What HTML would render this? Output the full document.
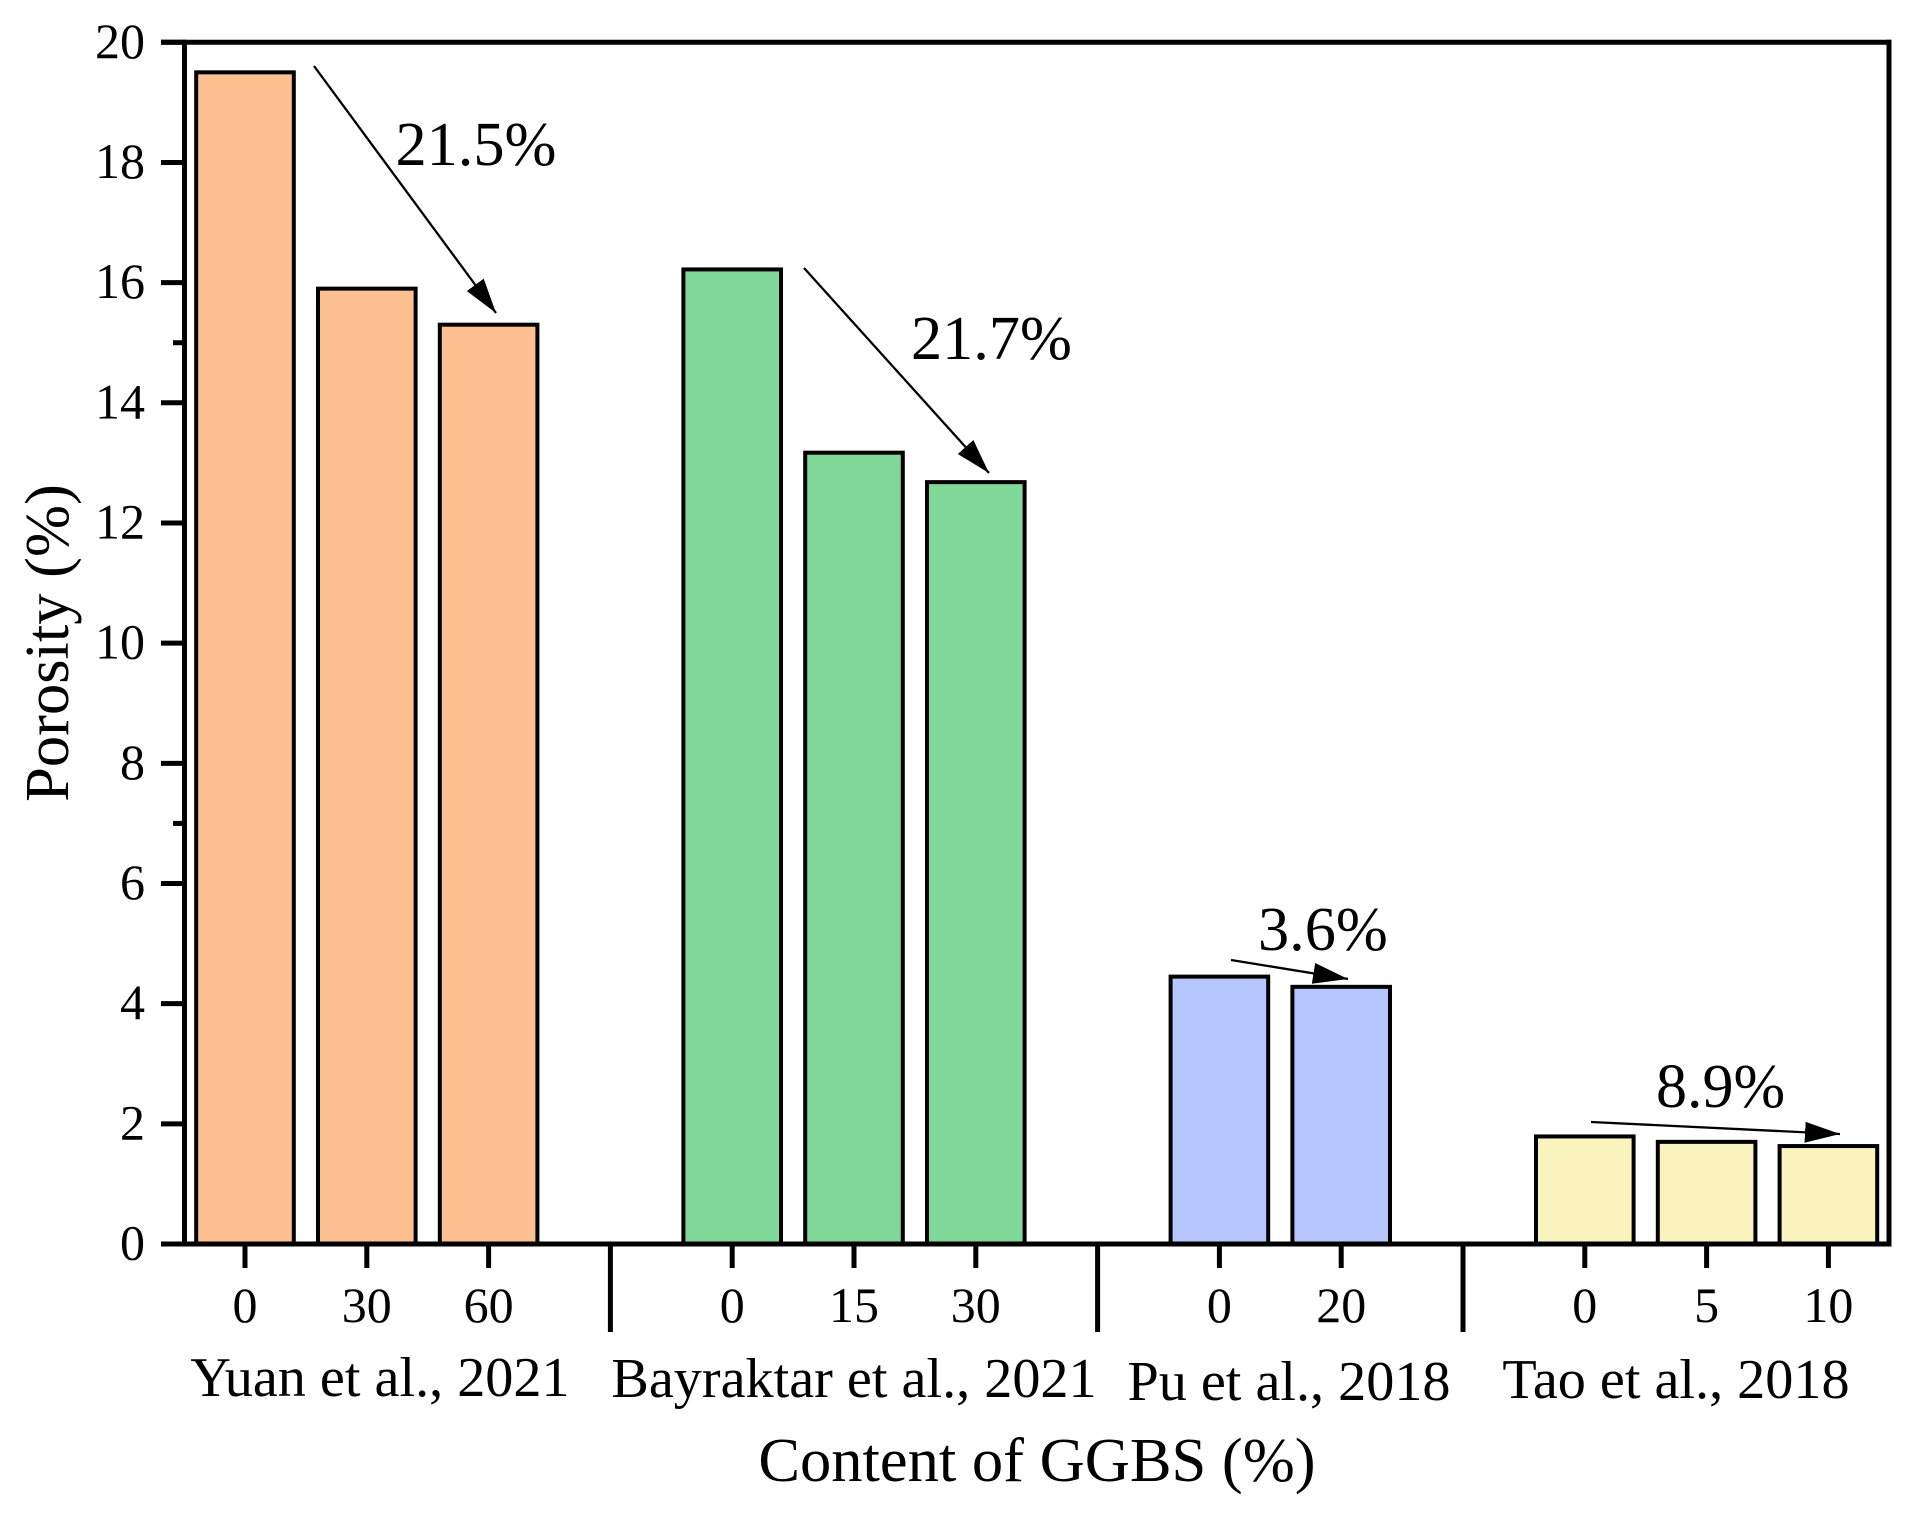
<!DOCTYPE html>
<html lang="en">
<head>
<meta charset="utf-8">
<title>Porosity vs Content of GGBS</title>
<style>
html,body{margin:0;padding:0;background:#fff;}
svg{display:block;}
text{font-family:"Liberation Serif",serif;fill:#000;}
</style>
</head>
<body>
<svg id="chart" xmlns="http://www.w3.org/2000/svg" width="1910" height="1518" viewBox="0 0 1910 1518">
  <rect x="0" y="0" width="1910" height="1518" fill="#ffffff"/>
  <g id="bars"></g>
  <g id="axes"></g>
  <g id="annotations">
    <defs>
      <marker id="arrowhead" markerUnits="userSpaceOnUse" markerWidth="36" markerHeight="22" refX="35" refY="10.5" orient="auto">
        <path d="M0,0 L35,10.5 L0,21 Z" fill="#000"/>
      </marker>
    </defs>
    <line x1="314" y1="66" x2="496" y2="313" stroke="#000" stroke-width="2.3" marker-end="url(#arrowhead)"/>
    <line x1="804" y1="268" x2="989" y2="473" stroke="#000" stroke-width="2.3" marker-end="url(#arrowhead)"/>
    <line x1="1231" y1="960" x2="1348" y2="979" stroke="#000" stroke-width="2.3" marker-end="url(#arrowhead)"/>
    <line x1="1591" y1="1122" x2="1840" y2="1134" stroke="#000" stroke-width="2.3" marker-end="url(#arrowhead)"/>
    <text x="395.5" y="165" font-size="62.3">21.5%</text>
    <text x="911" y="359" font-size="62.3">21.7%</text>
    <text x="1258" y="950" font-size="62.3">3.6%</text>
    <text x="1656" y="1107" font-size="62">8.9%</text>
  </g>
  <text transform="translate(68,643) rotate(-90)" text-anchor="middle" font-size="62.5">Porosity (%)</text>
  <text x="1037" y="1481" text-anchor="middle" font-size="62.5">Content of GGBS (%)</text>
</svg>
<script>
// Chart data
const groupNames = ["Yuan et al., 2021", "Bayraktar et al., 2021", "Pu et al., 2018", "Tao et al., 2018"];
const groupContents = [["0", "30", "60"], ["0", "15", "30"], ["0", "20"], ["0", "5", "10"]];
const groupValues = [[19.5, 15.9, 15.3], [16.22, 13.17, 12.68], [4.45, 4.28], [1.79, 1.7, 1.63]];
const groupColors = ["#FFC091", "#80D898", "#B8C6FF", "#F9F3BE"];
const yTicks = [0, 2, 4, 6, 8, 10, 12, 14, 16, 18, 20];
const yMinorTicks = [7, 15];

// Axis functions
const plotLeft = 184.5, plotRight = 1889, plotTop = 42.3, plotBottom = 1244;
const yMax = 20;
const slotWidth = 121.8;
function yScale(v) { return plotBottom - (v / yMax) * (plotBottom - plotTop); }
function xScale(slot) { return 245 + slot * slotWidth; }

const NS = "http://www.w3.org/2000/svg";
const barsG = document.getElementById("bars");
const axesG = document.getElementById("axes");

function addLine(parent, x1, y1, x2, y2, w) {
  const l = document.createElementNS(NS, "line");
  l.setAttribute("x1", x1);
  l.setAttribute("y1", y1);
  l.setAttribute("x2", x2);
  l.setAttribute("y2", y2);
  l.setAttribute("stroke", "#000");
  l.setAttribute("stroke-width", w);
  parent.appendChild(l);
  return l;
}
function addText(parent, x, y, size, anchor, str) {
  const t = document.createElementNS(NS, "text");
  t.setAttribute("x", x);
  t.setAttribute("y", y);
  t.setAttribute("font-size", size);
  t.setAttribute("text-anchor", anchor);
  t.textContent = str;
  parent.appendChild(t);
  return t;
}

const barWidth = 97.6;
const groupLabelCenters = [380, 854, 1289, 1676];
const groupLabelBaselines = [1396, 1397, 1400, 1398];
let slot = 0;

groupValues.forEach(function (vals, g) {
  vals.forEach(function (v, i) {
    const cx = xScale(slot);
    const top = yScale(v);
    const r = document.createElementNS(NS, "rect");
    r.setAttribute("x", cx - barWidth / 2);
    r.setAttribute("y", top);
    r.setAttribute("width", barWidth);
    r.setAttribute("height", plotBottom - top);
    r.setAttribute("fill", groupColors[g]);
    r.setAttribute("stroke", "#000");
    r.setAttribute("stroke-width", 4);
    
    
    barsG.appendChild(r);

    const tick = addLine(axesG, cx, plotBottom, cx, plotBottom + 24, 5);
    
    

    const lab = addText(axesG, cx, 1322, 50, "middle", groupContents[g][i]);
    
    
    slot += 1;
  });

  const gl = addText(axesG, groupLabelCenters[g], groupLabelBaselines[g], 56.2, "middle", groupNames[g]);
  
  

  if (g < groupValues.length - 1) {
    const sx = xScale(slot);
    const sep = addLine(axesG, sx, plotBottom, sx, plotBottom + 88, 5);
    
    
    slot += 1;
  }
});

yTicks.forEach(function (v) {
  const y = yScale(v);
  const tick = addLine(axesG, 161, y, plotLeft, y, 5);
  
  
  const lab = addText(axesG, 145, y + 15.5, 50, "end", String(v));
  
  
});
yMinorTicks.forEach(function (v) {
  const y = yScale(v);
  const tick = addLine(axesG, 173, y, plotLeft, y, 5);
  
  
});

const spineLeft = addLine(axesG, plotLeft, plotTop - 2.5, plotLeft, plotBottom + 2.5, 5);


const spineBottom = addLine(axesG, 161, plotBottom, plotRight + 2.5, plotBottom, 5);


const spineTop = addLine(axesG, 161, plotTop, plotRight + 2.5, plotTop, 5);


const spineRight = addLine(axesG, plotRight, plotTop - 2.5, plotRight, plotBottom + 2.5, 5);


</script>
</body>
</html>
